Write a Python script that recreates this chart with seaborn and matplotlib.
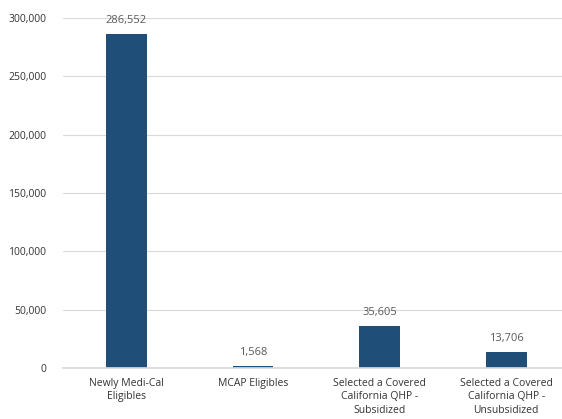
import matplotlib
matplotlib.use("Agg")
import matplotlib.pyplot as plt
import seaborn as sns
import pandas as pd
from matplotlib.ticker import FuncFormatter

categories = [
    "Newly Medi-Cal\nEligibles",
    "MCAP Eligibles",
    "Selected a Covered\nCalifornia QHP -\nSubsidized",
    "Selected a Covered\nCalifornia QHP -\nUnsubsidized",
]
counts = [286552, 1568, 35605, 13706]

df = pd.DataFrame({"category": categories, "count": counts})

sns.set_theme(style="white")
plt.rcParams["font.family"] = ["Open Sans", "DejaVu Sans"]

text_color = "#595959"
bar_color = "#1F4E79"

fig = plt.figure(figsize=(5.62, 4.19), dpi=100)
ax = fig.add_axes([63 / 562, 1 - 368 / 419, 1 - 63 / 562, 350 / 419])

sns.barplot(data=df, x="category", y="count", color=bar_color, width=0.32,
            saturation=1, linewidth=0, ax=ax)

for i, v in enumerate(counts):
    ax.text(i, v + 7000, f"{v:,}", ha="center", va="bottom",
            fontsize=8, color=text_color)

ax.set_ylim(0, 300000)
ax.set_xlim(-0.5, 3.44)
ax.set_yticks(range(0, 300001, 50000))
ax.yaxis.set_major_formatter(FuncFormatter(lambda v, p: f"{int(v):,}"))
ax.grid(axis="y", color="#d9d9d9", linewidth=0.8)
ax.set_axisbelow(True)
for s in ["top", "right", "left"]:
    ax.spines[s].set_visible(False)
ax.spines["bottom"].set_color("#d9d9d9")
ax.set_xlabel("")
ax.set_ylabel("")
ax.tick_params(axis="both", length=0, labelsize=7.5, colors="#333333")
ax.tick_params(axis="x", pad=7)
ax.tick_params(axis="y", pad=12)
for lbl in ax.get_xticklabels():
    lbl.set_linespacing(1.3)

fig.savefig("out.png", dpi=100)
